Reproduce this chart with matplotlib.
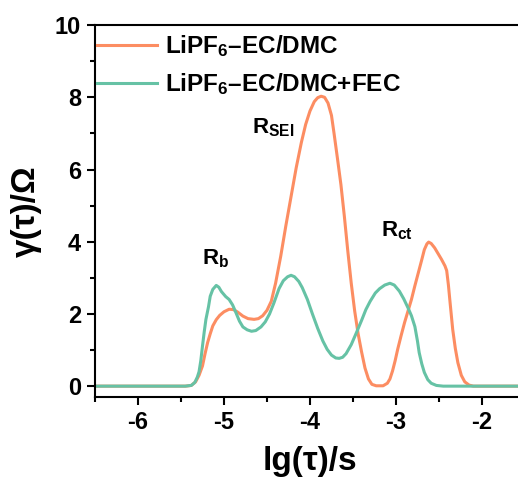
import matplotlib
matplotlib.use('Agg')
import matplotlib.pyplot as plt
from matplotlib.ticker import MultipleLocator

plt.rcParams['font.family'] = ['Liberation Sans', 'DejaVu Sans']
plt.rcParams['font.weight'] = 'bold'
plt.rcParams['axes.unicode_minus'] = False
plt.rcParams['mathtext.fontset'] = 'custom'
plt.rcParams['mathtext.rm'] = 'Liberation Sans:bold'
plt.rcParams['mathtext.bf'] = 'Liberation Sans:bold'
plt.rcParams['mathtext.it'] = 'Liberation Sans:bold'

# LiPF6-EC/DMC
x_ec = [-6.5, -5.45, -5.38, -5.33, -5.29, -5.25, -5.22, -5.19, -5.16, -5.13, -5.09, -5.05,
        -5.0, -4.94, -4.89, -4.84, -4.78, -4.72, -4.65, -4.60, -4.55, -4.50, -4.45, -4.40,
        -4.34, -4.28, -4.22, -4.16, -4.10, -4.05, -4.00, -3.95, -3.91, -3.87, -3.83, -3.79,
        -3.75, -3.72, -3.68, -3.64, -3.60, -3.56, -3.52, -3.48, -3.44, -3.40, -3.36, -3.32,
        -3.28, -3.23, -3.15, -3.10, -3.07, -3.04, -3.01, -2.98, -2.94, -2.90, -2.86, -2.82,
        -2.78, -2.74, -2.70, -2.67, -2.64, -2.62, -2.59, -2.55, -2.51, -2.47, -2.43, -2.41,
        -2.39, -2.37, -2.34, -2.31, -2.28, -2.24, -2.20, -2.15, -2.10, -1.5]
y_ec = [0, 0, 0.02, 0.12, 0.3, 0.56, 0.9, 1.21, 1.45, 1.67, 1.84, 1.96,
        2.06, 2.13, 2.12, 2.05, 1.94, 1.87, 1.85, 1.87, 1.95, 2.1, 2.35, 2.85,
        3.6, 4.45, 5.25, 6.05, 6.75, 7.25, 7.62, 7.88, 7.99, 8.03, 8.0, 7.84,
        7.5, 7.0, 6.3, 5.58, 4.7, 3.74, 2.85, 2.08, 1.45, 0.95, 0.5, 0.2,
        0.05, 0.01, 0.01, 0.08, 0.2, 0.42, 0.7, 1.02, 1.4, 1.76, 2.08, 2.40,
        2.78, 3.14, 3.5, 3.78, 3.94, 3.99, 3.95, 3.83, 3.67, 3.51, 3.33, 3.2,
        2.8, 2.3, 1.57, 1.05, 0.65, 0.3, 0.12, 0.03, 0, 0]

# LiPF6-EC/DMC+FEC
x_fec = [-6.5, -5.45, -5.38, -5.34, -5.31, -5.29, -5.27, -5.25, -5.23, -5.21, -5.18, -5.16,
         -5.13, -5.09, -5.06, -5.03, -4.98, -4.94, -4.90, -4.86, -4.82, -4.78, -4.73, -4.68,
         -4.63, -4.57, -4.52, -4.47, -4.42, -4.36, -4.31, -4.26, -4.22, -4.18, -4.13, -4.09,
         -4.03, -3.97, -3.91, -3.85, -3.80, -3.75, -3.70, -3.66, -3.62, -3.58, -3.52, -3.46,
         -3.40, -3.35, -3.30, -3.24, -3.19, -3.13, -3.07, -3.02, -2.96, -2.91, -2.86, -2.82,
         -2.78, -2.75, -2.73, -2.70, -2.67, -2.63, -2.59, -2.53, -2.45, -1.5]
y_fec = [0, 0, 0.02, 0.1, 0.25, 0.4, 0.7, 1.11, 1.5, 1.85, 2.2, 2.49,
         2.68, 2.79, 2.74, 2.62, 2.48, 2.40, 2.25, 2.03, 1.80, 1.64, 1.56, 1.52,
         1.54, 1.64, 1.78, 2.0, 2.3, 2.7, 2.92, 3.03, 3.07, 3.03, 2.9, 2.73,
         2.4, 1.99, 1.6, 1.25, 1.02, 0.86, 0.78, 0.77, 0.8, 0.9, 1.15, 1.48,
         1.82, 2.12, 2.35, 2.58, 2.70, 2.8, 2.85, 2.8, 2.63, 2.42, 2.17, 1.95,
         1.65, 1.25, 0.93, 0.62, 0.38, 0.18, 0.08, 0.02, 0, 0]

labels = [r'LiPF$_{6}$–EC/DMC', r'LiPF$_{6}$–EC/DMC+FEC']
colors = ['#FC8D62', '#66C2A5']

fig = plt.figure(figsize=(5.18, 4.78), dpi=100)
ax = fig.add_axes([0.1834, 0.1695, 0.830, 0.778])

ax.plot(x_ec, y_ec, color=colors[0], lw=2.2, label=labels[0])
ax.plot(x_fec, y_fec, color=colors[1], lw=2.2, label=labels[1])

ax.set_xlim(-6.5, -1.5)
ax.set_ylim(-0.3, 10)
ax.xaxis.set_major_locator(MultipleLocator(1))
ax.xaxis.set_minor_locator(MultipleLocator(0.5))
ax.yaxis.set_major_locator(MultipleLocator(2))
ax.yaxis.set_minor_locator(MultipleLocator(1))

for s in ['left', 'top', 'bottom']:
    ax.spines[s].set_linewidth(1.5)
ax.spines['right'].set_visible(False)
ax.tick_params(which='major', direction='out', length=6, width=1.5, labelsize=17, pad=4)
ax.tick_params(which='minor', direction='out', length=3.5, width=1.5)
for lab in ax.get_xticklabels() + ax.get_yticklabels():
    lab.set_fontweight('bold')

ax.set_xlabel(r'lg(τ)/s', fontsize=24, fontweight='bold', labelpad=9)
ax.set_ylabel(r'γ(τ)/Ω', fontsize=24, fontweight='bold', labelpad=9)

ax.text(-5.25, 3.37, r'R$_{b}$', fontsize=16, fontweight='bold', ha='left', va='baseline')
ax.text(-4.67, 7.0, r'R$_{SEI}$', fontsize=16, fontweight='bold', ha='left', va='baseline')
ax.text(-3.17, 4.15, r'R$_{ct}$', fontsize=16, fontweight='bold', ha='left', va='baseline')

ax.legend(loc='upper left', bbox_to_anchor=(0.0, 0.985), frameon=False, fontsize=17.5,
          handlelength=2.45, borderaxespad=0.0, borderpad=0.1, handletextpad=0.35,
          labelspacing=0.5)

fig.savefig('out.png', dpi=100)
